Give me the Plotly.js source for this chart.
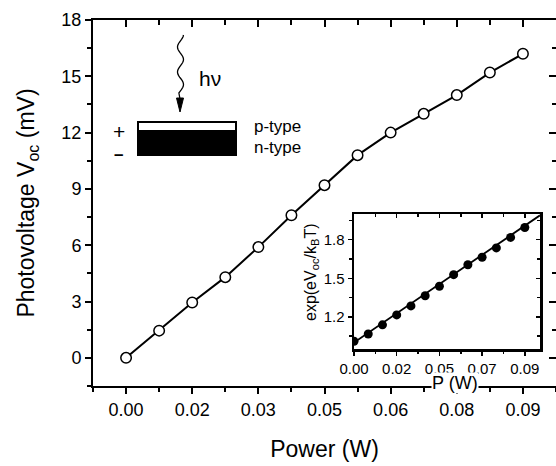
<!DOCTYPE html>
<html>
<head>
<meta charset="utf-8">
<script src="https://cdn.plot.ly/plotly-3.0.1.min.js"></script>
<style>html,body{margin:0;padding:0;background:#fff;}#chart{width:556px;height:466px;}</style>
</head>
<body>
<div id="chart"></div>
<script>
// ---- data ----
const powerW = [0, 0.0075, 0.015, 0.0225, 0.03, 0.0375, 0.045, 0.0525, 0.06, 0.0675, 0.075, 0.0825, 0.09];
const vocMV  = [0, 1.45, 2.95, 4.3, 5.9, 7.6, 9.2, 10.8, 12.0, 13.0, 14.0, 15.2, 16.2];
const expVoc = [1.01, 1.067, 1.138, 1.215, 1.285, 1.364, 1.438, 1.528, 1.605, 1.664, 1.736, 1.818, 1.895];
const fitP   = [0, 0.098];
const fitExp = [1.0, 1.99];
const mainXTickVals = [0, 0.015, 0.03, 0.045, 0.06, 0.075, 0.09];
const mainXTickText = ['0.00', '0.02', '0.03', '0.05', '0.06', '0.08', '0.09'];
const insetXTickVals = [0, 0.0225, 0.045, 0.0675, 0.09];
const insetXTickText = ['0.00', '0.02', '0.05', '0.07', '0.09'];

const L = 93, R = 556, T = 20, B = 386;
const px = x => (x - L) / (R - L);
const py = y => (B - y) / (B - T);
const FONT = '"Liberation Sans", Arial, Helvetica, sans-serif';

let wave = '';
for (let i = 0; i <= 40; i++) {
  const y = 35 + (93 - 35) * i / 40;
  const x = 180.5 - 3 * Math.cos(Math.PI * (y - 47) / 12.5);
  wave += (i === 0 ? 'M ' : ' L ') + px(x).toFixed(5) + ',' + py(y).toFixed(5);
}
wave += ' L ' + px(180).toFixed(5) + ',' + py(99).toFixed(5);
const head = `M ${px(176.5)},${py(98)} L ${px(183.5)},${py(98)} L ${px(180)},${py(112)} Z`;

// invisible companions so the mirrored (top / right) tick axes get drawn
const ghost = (xa, ya, xs, ys) => ({x: xs, y: ys, xaxis: xa, yaxis: ya, type: 'scatter', mode: 'lines',
  line: {width: 0, color: 'rgba(0,0,0,0)'}, opacity: 0, hoverinfo: 'skip', showlegend: false});

const traces = [
  {
    x: powerW, y: vocMV, xaxis: 'x', yaxis: 'y', type: 'scatter', mode: 'lines+markers',
    line: {color: '#000', width: 2},
    marker: {symbol: 'circle', size: 10.5, color: '#fff', line: {color: '#000', width: 1.5}},
    showlegend: false
  },
  ghost('x2', 'y', powerW, vocMV),
  ghost('x', 'y2', powerW, vocMV),
  {
    x: fitP, y: fitExp, xaxis: 'x3', yaxis: 'y3', type: 'scatter', mode: 'lines',
    line: {color: '#000', width: 1.8}, showlegend: false
  },
  {
    x: powerW, y: expVoc, xaxis: 'x3', yaxis: 'y3', type: 'scatter', mode: 'markers',
    marker: {symbol: 'circle', size: 9, color: '#000'}, showlegend: false
  },
  ghost('x4', 'y3', powerW, expVoc),
  ghost('x3', 'y4', powerW, expVoc)
];

const axCommon = {showgrid: false, zeroline: false, linecolor: '#000', tickcolor: '#000'};

const layout = {
  width: 556, height: 466,
  margin: {l: L, r: 556 - R, t: T, b: 466 - B, pad: 0},
  paper_bgcolor: '#fff', plot_bgcolor: '#fff',
  font: {family: FONT, color: '#000'},
  showlegend: false,
  xaxis: Object.assign({}, axCommon, {
    range: [-0.0075, 0.0975], tickmode: 'array', tickvals: mainXTickVals, ticktext: mainXTickText,
    ticks: 'outside', ticklen: 6, tickwidth: 2, showline: true, linewidth: 2,
    minor: {tick0: 0, dtick: 0.0075, ticks: 'outside', ticklen: 4, tickwidth: 2, tickcolor: '#000'},
    tickfont: {size: 18}, anchor: 'y',
    title: {text: 'Power (W)', font: {size: 23}, standoff: 22}
  }),
  xaxis2: Object.assign({}, axCommon, {
    overlaying: 'x', anchor: 'y', side: 'top', range: [-0.0075, 0.0975],
    tickmode: 'array', tickvals: mainXTickVals, ticks: 'inside', ticklen: 7, tickwidth: 2,
    minor: {tick0: 0, dtick: 0.0075, ticks: 'inside', ticklen: 5, tickwidth: 2, tickcolor: '#000'},
    showline: true, linewidth: 2, showticklabels: false
  }),
  yaxis: Object.assign({}, axCommon, {
    range: [-1.5, 18], tick0: 0, dtick: 3, ticks: 'outside', ticklen: 6, tickwidth: 2,
    minor: {tick0: 0, dtick: 1.5, ticks: 'outside', ticklen: 4, tickwidth: 2, tickcolor: '#000'},
    showline: true, linewidth: 2, tickfont: {size: 18}, anchor: 'x',
    title: {text: 'Photovoltage V<sub>oc</sub> (mV)', font: {size: 23}, standoff: 20}
  }),
  yaxis2: Object.assign({}, axCommon, {
    overlaying: 'y', anchor: 'x', side: 'right', range: [-1.5, 18], tick0: 0, dtick: 3,
    ticks: 'inside', ticklen: 7, tickwidth: 2,
    minor: {tick0: 0, dtick: 1.5, ticks: 'inside', ticklen: 4, tickwidth: 2, tickcolor: '#000'},
    showline: false, showticklabels: false
  }),
  xaxis3: Object.assign({}, axCommon, {
    domain: [px(354), px(540)], anchor: 'y3', range: [0, 0.098],
    tickmode: 'array', tickvals: insetXTickVals, ticktext: insetXTickText,
    ticks: 'outside', ticklen: 4, tickwidth: 1.5, showline: true, linewidth: 2.5,
    minor: {tick0: 0, dtick: 0.01125, ticks: 'outside', ticklen: 2.5, tickwidth: 1.5, tickcolor: '#000'},
    tickfont: {size: 15}
  }),
  xaxis4: Object.assign({}, axCommon, {
    overlaying: 'x3', anchor: 'y3', side: 'top', range: [0, 0.098],
    tickmode: 'array', tickvals: insetXTickVals, ticks: 'inside', ticklen: 4, tickwidth: 1.5,
    minor: {tick0: 0, dtick: 0.01125, ticks: 'inside', ticklen: 3, tickwidth: 1.5, tickcolor: '#000'},
    showline: true, linewidth: 2.5, showticklabels: false
  }),
  yaxis3: Object.assign({}, axCommon, {
    domain: [py(349), py(214)], anchor: 'x3', range: [0.95, 2.0], tick0: 0, dtick: 0.3,
    tickformat: '.1f', ticks: 'outside', ticklen: 4, tickwidth: 1.5, showline: true, linewidth: 2.5,
    minor: {tick0: 0, dtick: 0.15, ticks: 'outside', ticklen: 2.5, tickwidth: 1.5, tickcolor: '#000'},
    tickfont: {size: 15}
  }),
  yaxis4: Object.assign({}, axCommon, {
    overlaying: 'y3', anchor: 'x3', side: 'right', range: [0.95, 2.0], tick0: 0, dtick: 0.3,
    ticks: 'inside', ticklen: 4, tickwidth: 1.5,
    minor: {tick0: 0, dtick: 0.15, ticks: 'inside', ticklen: 3, tickwidth: 1.5, tickcolor: '#000'},
    showline: true, linewidth: 2.5, showticklabels: false
  }),
  shapes: [
    {type: 'path', xref: 'paper', yref: 'paper', path: wave, line: {color: '#000', width: 1.3}},
    {type: 'path', xref: 'paper', yref: 'paper', path: head, fillcolor: '#000', line: {color: '#000', width: 1}},
    {type: 'rect', xref: 'paper', yref: 'paper', x0: px(138), x1: px(236), y0: py(131), y1: py(122),
     fillcolor: '#fff', line: {color: '#000', width: 2}},
    {type: 'rect', xref: 'paper', yref: 'paper', x0: px(138), x1: px(236), y0: py(155), y1: py(131),
     fillcolor: '#000', line: {color: '#000', width: 2}}
  ],
  annotations: [
    {xref: 'paper', yref: 'paper', x: px(210), y: py(79), text: 'hν', showarrow: false,
     font: {size: 21}, xanchor: 'center', yanchor: 'middle'},
    {xref: 'paper', yref: 'paper', x: px(119), y: py(131), text: '+', showarrow: false,
     font: {size: 21}, xanchor: 'center', yanchor: 'middle'},
    {xref: 'paper', yref: 'paper', x: px(118), y: py(154), text: '<b>–</b>', showarrow: false,
     font: {size: 17}, xanchor: 'center', yanchor: 'middle'},
    {xref: 'paper', yref: 'paper', x: px(252), y: py(126), text: 'p-type', showarrow: false,
     font: {size: 17}, xanchor: 'left', yanchor: 'middle'},
    {xref: 'paper', yref: 'paper', x: px(252), y: py(147), text: 'n-type', showarrow: false,
     font: {size: 17}, xanchor: 'left', yanchor: 'middle'},
    {xref: 'paper', yref: 'paper', x: px(455), y: py(383), text: 'P (W)', showarrow: false,
     font: {size: 18}, xanchor: 'center', yanchor: 'middle', bgcolor: '#fff', borderpad: 0},
    {xref: 'paper', yref: 'paper', x: px(311), y: py(272), text: 'exp(eV<sub>oc</sub>/k<sub>B</sub>T)',
     showarrow: false, textangle: -90, font: {size: 16}, xanchor: 'center', yanchor: 'middle'}
  ]
};

Plotly.newPlot('chart', traces, layout, {staticPlot: true, displayModeBar: false});
</script>
</body>
</html>
